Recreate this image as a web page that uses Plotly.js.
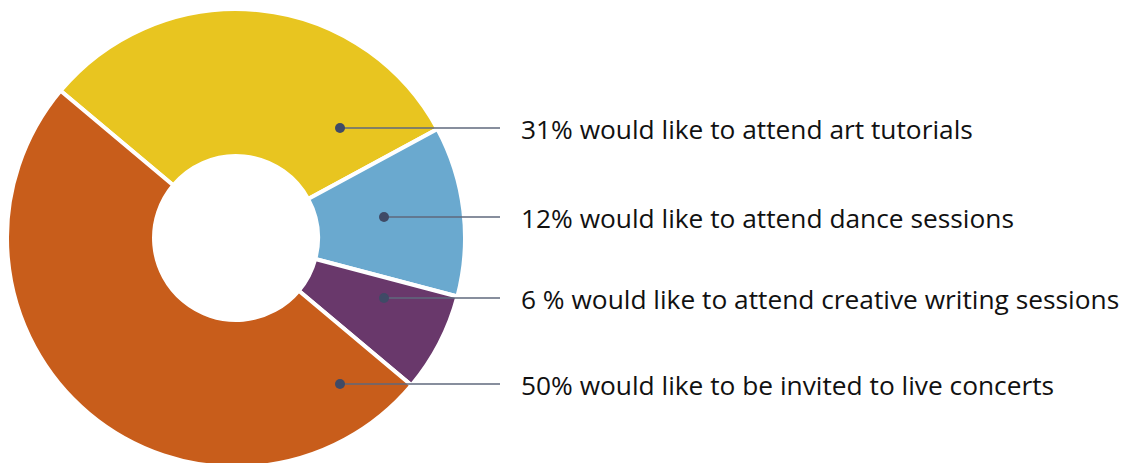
<!DOCTYPE html>
<html>
<head>
<meta charset="utf-8">
<script src="https://cdn.plot.ly/plotly-3.0.1.min.js"></script>
<style>html,body{margin:0;padding:0;overflow:hidden;background:#fff;}</style>
</head>
<body>
<div id="chart" style="width:1133px;height:470px;"></div>
<script>
// Data
const categories = ["Art tutorials", "Dance sessions", "Creative writing sessions", "Live concerts"];
const values = [31, 12, 7, 50];
const labelTexts = [
  "31% would like to attend art tutorials",
  "12% would like to attend dance sessions",
  "6 % would like to attend creative writing sessions",
  "50% would like to be invited to live concerts"
];
const colors = ["#E8C520", "#6AA9CF", "#69386B", "#C85D1B"];

// Layout helpers (pixel -> paper)
const W = 1133, H = 470;
const px = x => x / W;
const py = y => (H - y) / H;

// leader positions (layout only)
const dotX = [340, 384, 384, 340];
const rowY = [128, 217, 298, 384];
const lineEndX = 500;
const textX = 519;
const dotR = 5;

const shapes = [];
const annotations = [];
for (let i = 0; i < labelTexts.length; i++) {
  shapes.push({type: "line", xref: "paper", yref: "paper",
    x0: px(dotX[i]), x1: px(lineEndX), y0: py(rowY[i]), y1: py(rowY[i]),
    line: {color: "#5f687c", width: 1.5}});
  shapes.push({type: "circle", xref: "paper", yref: "paper",
    x0: px(dotX[i] - dotR), x1: px(dotX[i] + dotR), y0: py(rowY[i] - dotR), y1: py(rowY[i] + dotR),
    fillcolor: "#3f4a66", line: {width: 0}});
  annotations.push({xref: "paper", yref: "paper", x: px(textX), y: py(rowY[i] + 1),
    xanchor: "left", yanchor: "middle", showarrow: false, text: labelTexts[i],
    font: {family: "Open Sans, sans-serif", size: 26.3, color: "#111111"}});
}

const trace = {
  type: "pie",
  labels: categories,
  values: values,
  sort: false,
  direction: "clockwise",
  rotation: -50,
  hole: 0.358,
  textinfo: "none",
  hoverinfo: "label+percent",
  marker: {colors: colors, line: {color: "#ffffff", width: 4}},
  domain: {x: [7 / W, 465 / W], y: [3 / H, 461 / H]},
  showlegend: false
};

const layout = {
  width: W, height: H,
  margin: {l: 0, r: 0, t: 0, b: 0},
  paper_bgcolor: "#ffffff",
  showlegend: false,
  shapes: shapes,
  annotations: annotations
};

Plotly.newPlot("chart", [trace], layout, {displayModeBar: false, staticPlot: true});
</script>
</body>
</html>
